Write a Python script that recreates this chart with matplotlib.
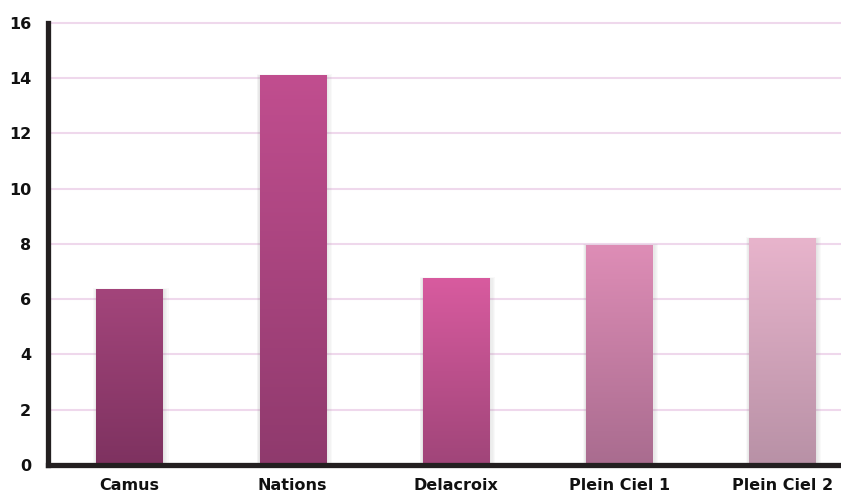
import matplotlib.pyplot as plt
import numpy as np
from matplotlib.colors import LinearSegmentedColormap
from matplotlib.patches import Rectangle

sites = ["Camus", "Nations", "Delacroix", "Plein Ciel 1", "Plein Ciel 2"]
values = [6.35, 14.1, 6.75, 7.95, 8.2]
top_colors = ["#a3457b", "#c14e8f", "#d85b9f", "#de8db6", "#e8b4cc"]
bottom_colors = ["#7e3260", "#8f3a6d", "#a04579", "#a96c8f", "#b891a6"]
yticks = [0, 2, 4, 6, 8, 10, 12, 14, 16]

plt.rcParams['font.family'] = ['DejaVu Sans']

fig = plt.figure(figsize=(8.41, 4.95), dpi=100)
ax = fig.add_axes([0.057, 0.0606, 0.943, 0.893])

x = np.arange(len(sites))
bars = ax.bar(x, values, width=0.405, color="none", zorder=3)

px = 1.0 / 163  # roughly one pixel in x data units
for rect, c_top, c_bot in zip(bars, top_colors, bottom_colors):
    x0, w, h = rect.get_x(), rect.get_width(), rect.get_height()
    # soft shadow around the bar
    for k in range(1, 6):
        ax.add_patch(Rectangle((x0 - k * px * 0.6, 0), w + k * px * 1.8, h + k * 0.008,
                               facecolor="#808080", alpha=0.045, lw=0, zorder=2))
    cmap = LinearSegmentedColormap.from_list("g", [c_bot, c_top])
    grad = np.linspace(1, 0, 256).reshape(-1, 1)
    ax.imshow(grad, cmap=cmap, extent=[x0, x0 + w, 0, h], aspect="auto",
              interpolation="bicubic", zorder=3)

ax.set_xlim(-0.5, 4.36)
ax.set_ylim(0, 16)
ax.set_yticks(yticks)
ax.set_xticks(x)
ax.set_xticklabels(sites)
ax.yaxis.grid(True, color="#efd8ec", linewidth=1.5, zorder=0)
ax.set_axisbelow(True)
for gl in ax.get_ygridlines():
    gl.set_clip_on(False)

for side in ["top", "right"]:
    ax.spines[side].set_visible(False)
for side in ["left", "bottom"]:
    ax.spines[side].set_linewidth(3.8)
    ax.spines[side].set_color("#231f20")
    ax.spines[side].set_zorder(5)

ax.tick_params(axis="both", length=0)
ax.tick_params(axis="y", pad=12, labelsize=11.5)
ax.tick_params(axis="x", pad=9, labelsize=11.5)
for lbl in ax.get_xticklabels() + ax.get_yticklabels():
    lbl.set_fontweight("bold")
    lbl.set_color("#111111")

fig.savefig("out.png", dpi=100)
